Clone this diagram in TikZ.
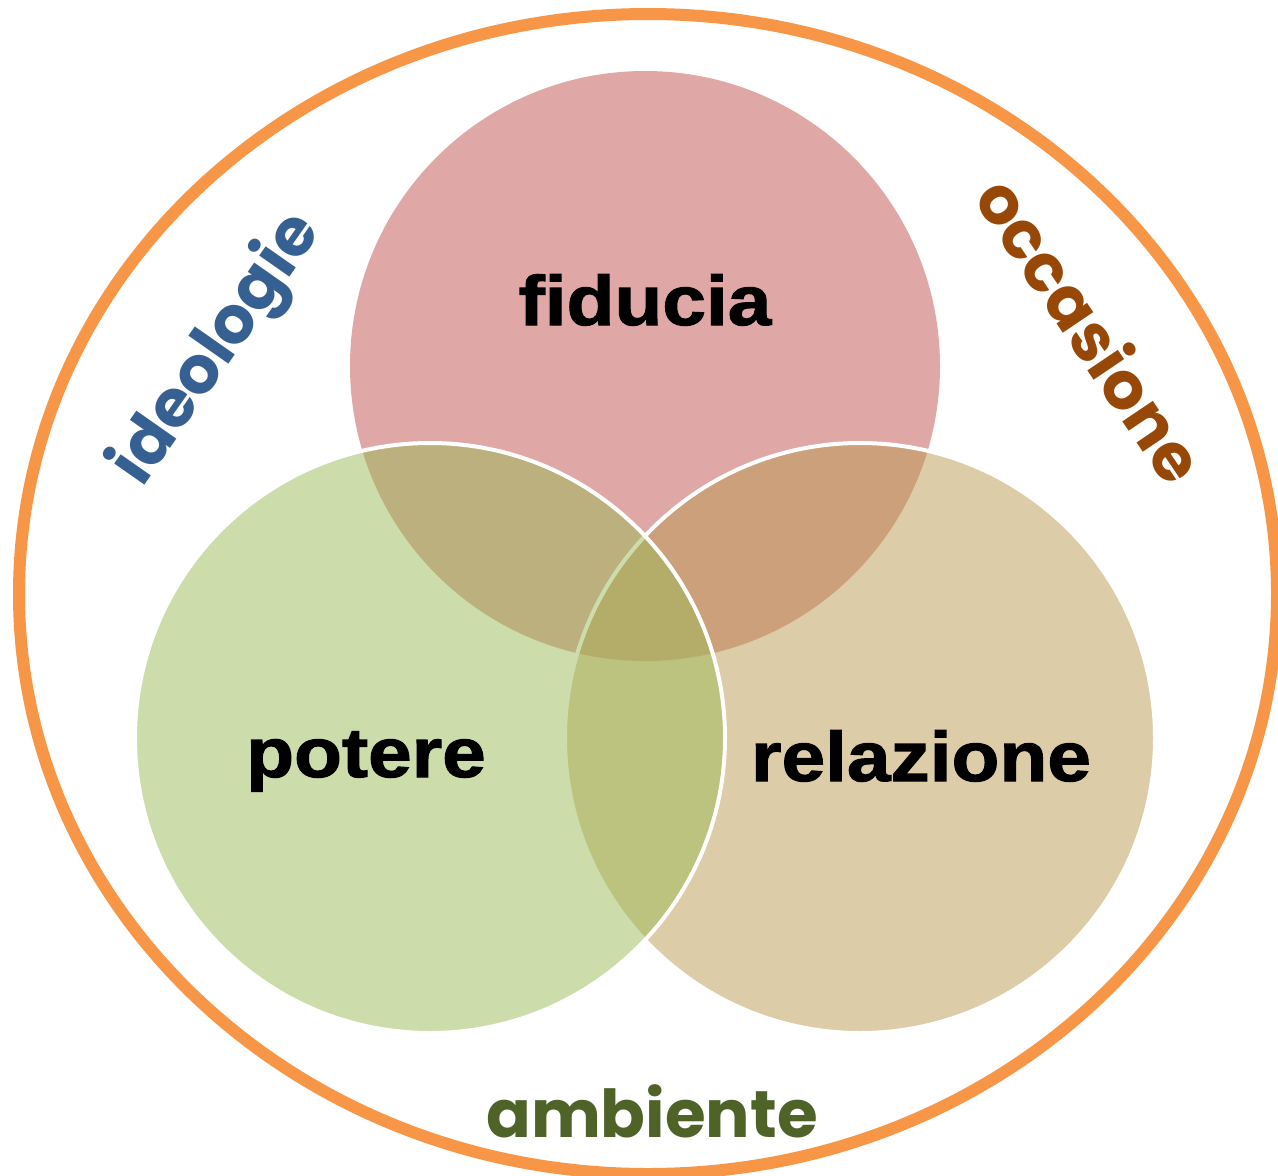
\documentclass[tikz,border=0pt]{standalone}
\usepackage{fontspec}
\usetikzlibrary{shapes.geometric}
\newfontfamily\heavy[FakeStretch=1.12,FakeBold=1.6]{Liberation Sans}
\newfontfamily\geo{Poppins}
\definecolor{fidC}{RGB}{192,80,77}
\definecolor{potC}{RGB}{155,187,89}
\definecolor{relC}{RGB}{187,155,81}
\definecolor{envC}{RGB}{247,150,70}
\definecolor{ideoC}{RGB}{54,96,146}
\definecolor{occC}{RGB}{151,71,6}
\definecolor{ambC}{RGB}{79,98,40}
\tikzset{
  venn/.style={circle, inner sep=0pt, minimum size=590pt, fill opacity=0.5},
  vennline/.style={draw=white, line width=4pt},
  biglbl/.style={inner sep=0pt, text=black, font=\heavy\bfseries\fontsize{70}{84}\selectfont},
  geolbl/.style={inner sep=0pt, font=\geo\bfseries\fontsize{66}{80}\selectfont},
}
\begin{document}
\begin{tikzpicture}[x=1pt,y=-1pt]
\useasboundingbox (0,0) rectangle (1278,1176);
\fill[white] (0,0) rectangle (1278,1176);
\node[ellipse, draw=envC, line width=12pt, inner sep=0pt, minimum width=1258pt, minimum height=1160pt] (env) at (648,594) {};
\node[venn, fill=fidC] (fid) at (645,366) {};
\node[venn, fill=relC, vennline] (rel) at (860,738) {};
\node[venn, fill=potC, vennline] (pot) at (430,738) {};
\node[biglbl, anchor=base] (tfid) at (645,325) {fiducia};
\node[biglbl, anchor=base] (tpot) at (366,777) {potere};
\node[biglbl, anchor=base] (trel) at (921,781) {relazione};
\node[geolbl, text=ideoC, anchor=base, rotate=55] (tideo) at (232,360) {ideologie};
\node[geolbl, text=occC, anchor=base, rotate=-56] (tocc) at (1070,344) {occasione};
\node[geolbl, text=ambC, anchor=base] (tamb) at (652,1137) {ambiente};
\end{tikzpicture}
\end{document}
